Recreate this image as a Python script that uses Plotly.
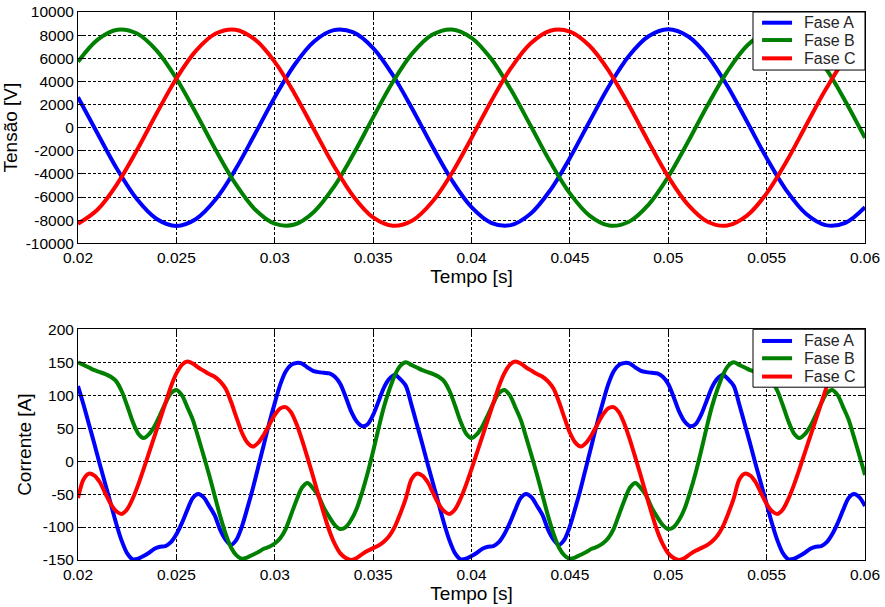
import plotly.graph_objects as go
from plotly.subplots import make_subplots

# ---------------- data ----------------
phase_names = ["Fase A", "Fase B", "Fase C"]
phase_colors = ["#0000FF", "#008000", "#FF0000"]

# Voltage (top panel), sampled every 1 ms
t_v = [0.020, 0.021, 0.022, 0.023, 0.024, 0.025, 0.026, 0.027, 0.028, 0.029,
       0.030, 0.031, 0.032, 0.033, 0.034, 0.035, 0.036, 0.037, 0.038, 0.039,
       0.040, 0.041, 0.042, 0.043, 0.044, 0.045, 0.046, 0.047, 0.048, 0.049,
       0.050, 0.051, 0.052, 0.053, 0.054, 0.055, 0.056, 0.057, 0.058, 0.059,
       0.060]
v_a = [2630, -530, -3620, -6200, -7900, -8500, -7900, -6200, -3620, -530,
       2630, 5420, 7450, 8430, 8230, 6880, 4550, 1590, -1590, -4550,
       -6880, -8230, -8430, -7450, -5420, -2630, 530, 3620, 6200, 7900,
       8500, 7900, 6200, 3620, 530, -2630, -5420, -7450, -8430, -8230,
       -6880]
v_b = [5690, 7610, 8470, 8140, 6660, 4250, 1240, -1940, -4850, -7080,
       -8310, -8380, -7270, -5140, -2290, 890, 3940, 6440, 8030, 8490,
       7770, 5950, 3290, 180, -2960, -5690, -7610, -8470, -8140, -6660,
       -4250, -1240, 1940, 4850, 7080, 8310, 8380, 7270, 5140, 2290,
       -890]
v_c = [-8310, -7080, -4850, -1940, 1240, 4250, 6660, 8140, 8470, 7610,
       5690, 2960, -180, -3290, -5950, -7770, -8490, -8030, -6430, -3940,
       -890, 2290, 5140, 7270, 8380, 8310, 7080, 4850, 1940, -1240,
       -4250, -6660, -8140, -8470, -7610, -5690, -2960, 180, 3290, 5950,
       7770]

# Current (bottom panel), sampled every 1/3600 s
t_i = [0.020000, 0.020278, 0.020556, 0.020833, 0.021111, 0.021389, 0.021667, 0.021944, 0.022222,
       0.022500, 0.022778, 0.023056, 0.023333, 0.023611, 0.023889, 0.024167, 0.024444, 0.024722,
       0.025000, 0.025278, 0.025556, 0.025833, 0.026111, 0.026389, 0.026667, 0.026944, 0.027222,
       0.027500, 0.027778, 0.028056, 0.028333, 0.028611, 0.028889, 0.029167, 0.029444, 0.029722,
       0.030000, 0.030278, 0.030556, 0.030833, 0.031111, 0.031389, 0.031667, 0.031944, 0.032222,
       0.032500, 0.032778, 0.033056, 0.033333, 0.033611, 0.033889, 0.034167, 0.034444, 0.034722,
       0.035000, 0.035278, 0.035556, 0.035833, 0.036111, 0.036389, 0.036667, 0.036944, 0.037222,
       0.037500, 0.037778, 0.038056, 0.038333, 0.038611, 0.038889, 0.039167, 0.039444, 0.039722,
       0.040000, 0.040278, 0.040556, 0.040833, 0.041111, 0.041389, 0.041667, 0.041944, 0.042222,
       0.042500, 0.042778, 0.043056, 0.043333, 0.043611, 0.043889, 0.044167, 0.044444, 0.044722,
       0.045000, 0.045278, 0.045556, 0.045833, 0.046111, 0.046389, 0.046667, 0.046944, 0.047222,
       0.047500, 0.047778, 0.048056, 0.048333, 0.048611, 0.048889, 0.049167, 0.049444, 0.049722,
       0.050000, 0.050278, 0.050556, 0.050833, 0.051111, 0.051389, 0.051667, 0.051944, 0.052222,
       0.052500, 0.052778, 0.053056, 0.053333, 0.053611, 0.053889, 0.054167, 0.054444, 0.054722,
       0.055000, 0.055278, 0.055556, 0.055833, 0.056111, 0.056389, 0.056667, 0.056944, 0.057222,
       0.057500, 0.057778, 0.058056, 0.058333, 0.058611, 0.058889, 0.059167, 0.059444, 0.059722,
       0.060000]

i_a = [114, 86, 56, 26, -5, -35, -65, -95, -121, -140,
       -149, -148, -144, -139, -133, -130, -129, -123, -111, -94,
       -74, -56, -50, -55, -68, -82, -104, -119, -127, -119,
       -99, -71, -41, -8, 25, 58, 88, 116, 136, 146,
       149, 148, 142, 137, 135, 134, 133, 128, 117, 97,
       75, 60, 53, 56, 70, 91, 112, 125, 131, 124,
       114, 86, 56, 26, -5, -35, -65, -95, -121, -140,
       -149, -148, -144, -139, -133, -130, -129, -123, -111, -94,
       -74, -56, -50, -55, -68, -82, -104, -119, -127, -119,
       -99, -71, -41, -8, 25, 58, 88, 116, 136, 146,
       149, 148, 142, 137, 135, 134, 133, 128, 117, 97,
       75, 60, 53, 56, 70, 91, 112, 125, 131, 124,
       114, 86, 56, 26, -5, -35, -65, -95, -121, -140,
       -149, -148, -144, -139, -133, -130, -129, -123, -111, -94,
       -74, -56, -50, -55, -68]
i_b = [150, 146, 142, 138, 135, 132, 128, 121, 106, 84,
       60, 42, 35, 41, 53, 70, 88, 103, 108, 100,
       82, 63, 36, 8, -21, -52, -83, -110, -131, -143,
       -148, -146, -142, -138, -133, -130, -125, -117, -103, -81,
       -59, -40, -33, -41, -53, -71, -85, -97, -103, -100,
       -89, -72, -47, -18, 15, 50, 83, 109, 131, 145,
       150, 146, 142, 138, 135, 132, 128, 121, 106, 84,
       60, 42, 35, 41, 53, 70, 88, 103, 108, 100,
       82, 63, 36, 8, -21, -52, -83, -110, -131, -143,
       -148, -146, -142, -138, -133, -130, -125, -117, -103, -81,
       -59, -40, -33, -41, -53, -71, -85, -97, -103, -100,
       -89, -72, -47, -18, 15, 50, 83, 109, 131, 145,
       150, 146, 142, 138, 135, 132, 128, 121, 106, 84,
       60, 42, 35, 41, 53, 70, 88, 103, 108, 100,
       82, 63, 36, 8, -21]
i_c = [-56, -28, -19, -22, -32, -49, -65, -76, -80, -73,
       -57, -36, -12, 13, 38, 63, 88, 113, 133, 146,
       151, 148, 142, 137, 132, 128, 121, 110, 90, 66,
       43, 28, 22, 28, 40, 55, 70, 80, 82, 74,
       56, 32, 5, -23, -52, -80, -106, -126, -140, -147,
       -150, -147, -141, -136, -132, -128, -122, -113, -99, -79,
       -56, -28, -19, -22, -32, -49, -65, -76, -80, -73,
       -57, -36, -12, 13, 38, 63, 88, 113, 133, 146,
       151, 148, 142, 137, 132, 128, 121, 110, 90, 66,
       43, 28, 22, 28, 40, 55, 70, 80, 82, 74,
       56, 32, 5, -23, -52, -80, -106, -126, -140, -147,
       -150, -147, -141, -136, -132, -128, -122, -113, -99, -79,
       -56, -28, -19, -22, -32, -49, -65, -76, -80, -73,
       -57, -36, -12, 13, 38, 63, 88, 113, 133, 146,
       151, 148, 142, 137, 132]

x_tickvals = [0.02, 0.025, 0.03, 0.035, 0.04, 0.045, 0.05, 0.055, 0.06]
x_ticktext = ["0.02", "0.025", "0.03", "0.035", "0.04", "0.045", "0.05", "0.055", "0.06"]
yv_tickvals = [-10000, -8000, -6000, -4000, -2000, 0, 2000, 4000, 6000, 8000, 10000]
yv_ticktext = ["-10000", "-8000", "-6000", "-4000", "-2000", "0", "2000", "4000", "6000", "8000", "10000"]
yi_tickvals = [-150, -100, -50, 0, 50, 100, 150, 200]
yi_ticktext = ["-150", "-100", "-50", "0", "50", "100", "150", "200"]

# ---------------- figure ----------------
FONT = "Liberation Sans, Arial, sans-serif"
fig = make_subplots(rows=2, cols=1)

for name, color, vals in zip(phase_names, phase_colors, [v_a, v_b, v_c]):
    fig.add_trace(go.Scatter(x=t_v, y=vals, mode="lines", name=name, showlegend=False,
                             line=dict(color=color, width=4, shape="spline", smoothing=1)),
                  row=1, col=1)
for name, color, vals in zip(phase_names, phase_colors, [i_a, i_b, i_c]):
    fig.add_trace(go.Scatter(x=t_i, y=vals, mode="lines", name=name, showlegend=False,
                             line=dict(color=color, width=4, shape="spline", smoothing=0.8)),
                  row=2, col=1)

axis_common = dict(showline=True, mirror="ticks", linecolor="black", linewidth=1,
                   showgrid=True, gridcolor="black", gridwidth=1, griddash="3px,2px",
                   zeroline=False, ticks="inside", ticklen=5, tickcolor="black",
                   automargin=False,
                   tickfont=dict(size=15.5, color="black", family=FONT))

fig.update_xaxes(**axis_common, range=[0.02, 0.06], tickmode="array",
                 tickvals=x_tickvals, ticktext=x_ticktext)
fig.update_xaxes(title=dict(text="Tempo [s]", font=dict(size=19, color="black", family=FONT),
                            standoff=4))
fig.update_yaxes(**axis_common)
fig.update_yaxes(range=[-10000, 10000], tickmode="array", tickvals=yv_tickvals,
                 ticktext=yv_ticktext, domain=[0.578, 1.0],
                 title=dict(text="Tensão [V]", font=dict(size=19, color="black", family=FONT),
                            standoff=6), row=1, col=1)
fig.update_yaxes(range=[-150, 200], tickmode="array", tickvals=yi_tickvals,
                 ticktext=yi_ticktext, domain=[0.0, 0.421],
                 title=dict(text="Corrente [A]", font=dict(size=19, color="black", family=FONT),
                            standoff=6), row=2, col=1)

# ---------------- MATLAB-style legend boxes (one per panel) ----------------
shapes = []
annotations = []
legend_panels = [("x domain", "y domain", [0.9537, 0.8788, 0.7996]),
                 ("x2 domain", "y2 domain", [0.9494, 0.8745, 0.7952])]
for xr, yr, rows in legend_panels:
    shapes.append(dict(type="rect", xref=xr, yref=yr, x0=0.8577, x1=1.0, y0=0.749, y1=1.0,
                       fillcolor="white", line=dict(color="black", width=1), layer="above"))
    for name, color, yy in zip(phase_names, phase_colors, rows):
        shapes.append(dict(type="line", xref=xr, yref=yr, x0=0.8692, x1=0.9073, y0=yy, y1=yy,
                           line=dict(color=color, width=4), layer="above"))
        annotations.append(dict(text=name, xref=xr, yref=yr, x=0.9200, y=yy,
                                xanchor="left", yanchor="middle", showarrow=False,
                                font=dict(size=16, color="#262626", family=FONT)))

fig.update_layout(
    width=885, height=607,
    margin=dict(l=78, r=20, t=12, b=47),
    paper_bgcolor="white", plot_bgcolor="white",
    font=dict(family=FONT, color="black"),
    shapes=shapes, annotations=annotations,
    showlegend=False,
)

fig.write_html("out.html")
